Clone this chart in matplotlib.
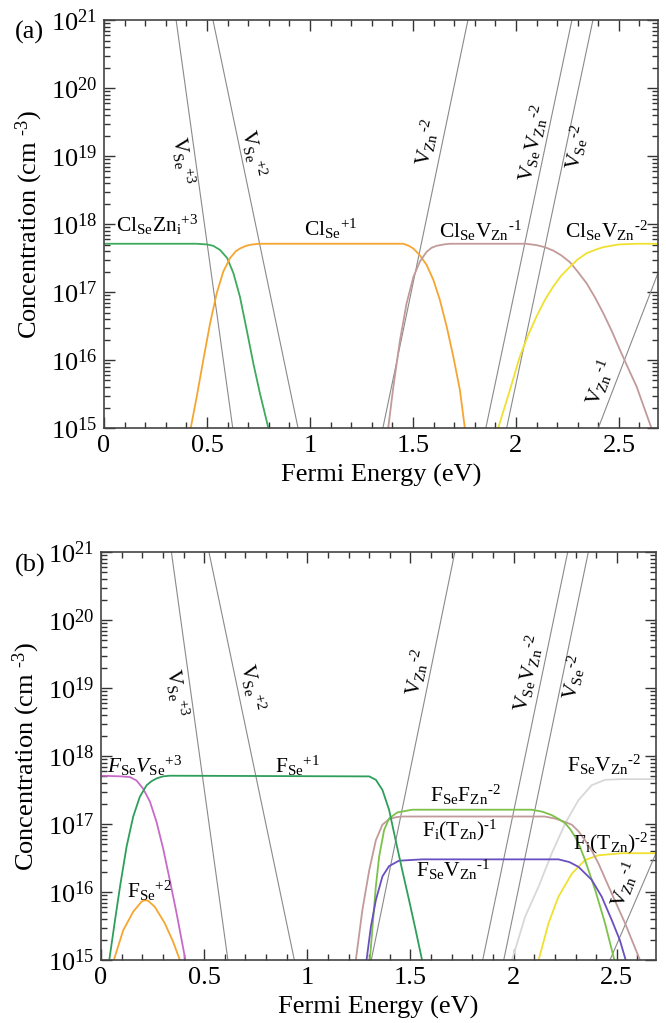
import numpy as np
import matplotlib.pyplot as plt
from matplotlib.ticker import MultipleLocator, FuncFormatter, LogLocator, NullFormatter

plt.rcParams['font.family'] = ['Liberation Serif', 'DejaVu Serif']
plt.rcParams['mathtext.fontset'] = 'custom'
plt.rcParams['mathtext.rm'] = 'Liberation Serif'
plt.rcParams['mathtext.it'] = 'Liberation Serif:italic'
plt.rcParams['mathtext.default'] = 'regular'

# ---------------------------------------------------------------
# Data: Fermi energy (eV) vs log10(conc. cm^-3)
# ---------------------------------------------------------------
# (a) Cl doping
cl_zni_e = [0.00, 0.45, 0.50, 0.53, 0.563, 0.598, 0.628, 0.660, 0.693, 0.725, 0.757, 0.798]
cl_zni_c = [17.71, 17.71, 17.70, 17.68, 17.62, 17.50, 17.28, 16.93, 16.44, 15.95, 15.51, 15.00]

cl_se1_e = [0.421, 0.450, 0.482, 0.515, 0.547, 0.579, 0.612, 0.640, 0.660, 0.690, 0.720, 0.757,
            1.453, 1.480, 1.502, 1.534, 1.566, 1.599, 1.631, 1.664, 1.696, 1.728, 1.752]
cl_se1_c = [15.00, 15.46, 16.00, 16.54, 16.98, 17.30, 17.50, 17.60, 17.64, 17.68, 17.70, 17.71,
            17.71, 17.68, 17.64, 17.54, 17.40, 17.18, 16.88, 16.49, 16.05, 15.56, 15.00]

cl_vzn1_e = [1.380, 1.405, 1.437, 1.469, 1.502, 1.534, 1.566, 1.590, 1.615, 1.650, 1.680,
             2.050, 2.100, 2.140, 2.181, 2.220, 2.262, 2.300, 2.343, 2.384, 2.424, 2.465,
             2.505, 2.545, 2.586, 2.658]
cl_vzn1_c = [15.00, 15.61, 16.29, 16.83, 17.22, 17.45, 17.59, 17.65, 17.68, 17.70, 17.71,
             17.71, 17.69, 17.66, 17.61, 17.54, 17.44, 17.30, 17.13, 16.92, 16.69, 16.43,
             16.15, 15.88, 15.61, 15.00]

cl_vzn2_e = [1.914, 1.971, 2.019, 2.060, 2.100, 2.140, 2.181, 2.220, 2.262, 2.300, 2.343,
             2.384, 2.424, 2.500, 2.586, 2.69]
cl_vzn2_c = [15.00, 15.56, 16.05, 16.37, 16.64, 16.88, 17.08, 17.24, 17.37, 17.48, 17.57,
             17.62, 17.66, 17.70, 17.71, 17.71]

# intrinsic defects (a): (E, logC) start and end
vac_a = {
    'vse3':    [(0.625, 15.0), (0.350, 21.0)],
    'vse2':    [(0.942, 15.0), (0.529, 21.0)],
    'vzn2':    [(1.354, 15.0), (1.767, 21.0)],
    'vsevzn2': [(1.854, 15.0), (2.272, 21.0)],
    'vse_2':   [(1.955, 15.0), (2.374, 21.0)],
    'vzn1':    [(2.400, 15.0), (2.690, 17.28)],
}

# (b) F doping
fse_vse3_e = [0.00, 0.10, 0.140, 0.172, 0.204, 0.237, 0.269, 0.301, 0.333, 0.366, 0.409]
fse_vse3_c = [17.71, 17.70, 17.69, 17.64, 17.52, 17.33, 17.03, 16.64, 16.18, 15.69, 15.00]

fse1_e = [0.040, 0.068, 0.092, 0.124, 0.156, 0.188, 0.221, 0.245, 0.269, 0.300, 0.333,
          1.300, 1.332, 1.364, 1.396, 1.428, 1.460, 1.493, 1.525, 1.556]
fse1_c = [15.00, 15.59, 16.08, 16.67, 17.11, 17.40, 17.57, 17.63, 17.67, 17.70, 17.71,
          17.70, 17.65, 17.50, 17.21, 16.76, 16.32, 15.88, 15.44, 15.00]

fse2_e = [0.062, 0.108, 0.156, 0.197, 0.213, 0.229, 0.261, 0.309, 0.349, 0.382]
fse2_c = [15.00, 15.44, 15.71, 15.86, 15.88, 15.87, 15.78, 15.54, 15.27, 15.00]

fsefzn_e = [1.303, 1.316, 1.332, 1.348, 1.372, 1.396, 1.436, 1.509,
            2.088, 2.140, 2.185, 2.220, 2.250, 2.275, 2.298, 2.322, 2.346, 2.395, 2.443, 2.488]
fsefzn_c = [15.00, 15.49, 16.08, 16.52, 16.91, 17.08, 17.17, 17.21,
            17.21, 17.18, 17.13, 17.07, 17.01, 16.92, 16.81, 16.66, 16.47, 16.03, 15.54, 15.00]

fitzn1_e = [1.235, 1.267, 1.300, 1.332, 1.364, 1.396, 1.430, 1.460,
            2.150, 2.201, 2.240, 2.282, 2.315, 2.346, 2.380, 2.411, 2.475, 2.540, 2.612]
fitzn1_c = [15.00, 15.74, 16.32, 16.76, 16.99, 17.07, 17.10, 17.11,
            17.11, 17.08, 17.04, 16.99, 16.89, 16.76, 16.60, 16.42, 15.98, 15.54, 15.00]

fsevzn1_e = [1.287, 1.308, 1.332, 1.364, 1.396, 1.444, 1.557,
             2.217, 2.270, 2.314, 2.378, 2.427, 2.475, 2.515, 2.543]
fsevzn1_c = [15.00, 15.49, 15.88, 16.23, 16.38, 16.46, 16.48,
             16.48, 16.44, 16.37, 16.18, 15.93, 15.59, 15.29, 15.00]

fsevzn2_e = [1.992, 2.056, 2.121, 2.185, 2.250, 2.314, 2.378, 2.443, 2.523, 2.69]
fsevzn2_c = [15.00, 15.64, 16.08, 16.57, 17.01, 17.35, 17.57, 17.65, 17.66, 17.66]

fitzn2_e = [2.121, 2.169, 2.217, 2.282, 2.346, 2.411, 2.523, 2.69]
fitzn2_c = [15.00, 15.54, 15.93, 16.27, 16.47, 16.54, 16.57, 16.57]

vac_b = {
    'vse3':    [(0.615, 15.0), (0.341, 21.0)],
    'vse2':    [(0.937, 15.0), (0.523, 21.0)],
    'vzn2':    [(1.310, 15.0), (1.715, 21.0)],
    'vsevzn2': [(1.850, 15.0), (2.262, 21.0)],
    'vse_2':   [(1.952, 15.0), (2.362, 21.0)],
    'vzn1':    [(2.467, 15.0), (2.690, 16.57)],
}

x_ticks = [0, 0.5, 1, 1.5, 2, 2.5]
y_decades = [15, 16, 17, 18, 19, 20, 21]

LBL = 15.5
GRAY = '#8a8a8a'


def conc(c):
    return 10.0 ** np.asarray(c)


def setup(ax):
    ax.set_yscale('log')
    ax.set_xlim(0, 2.69)
    ax.set_ylim(1e15, 1e21)
    ax.set_xticks(x_ticks)
    ax.set_yticks(conc(y_decades))
    ax.xaxis.set_minor_locator(MultipleLocator(0.1))
    ax.xaxis.set_major_formatter(FuncFormatter(lambda v, p: f'{v:g}'))
    ax.yaxis.set_minor_locator(LogLocator(base=10, subs=np.arange(2, 10), numticks=20))
    ax.yaxis.set_minor_formatter(NullFormatter())
    ax.tick_params(which='both', direction='in', top=True, right=True,
                   labelsize=19, color='#333333', width=1.0)
    ax.tick_params(which='major', length=8, pad=5)
    ax.tick_params(which='minor', length=4)
    for s in ax.spines.values():
        s.set_color('#444444')
        s.set_linewidth(1.2)
    ax.set_xlabel('Fermi Energy (eV)', fontsize=19, labelpad=5)
    ax.set_ylabel(r'Concentration (cm $^{\text{-}3}$)', fontsize=19, labelpad=4)


def draw_vac(ax, vac):
    for (e0, c0), (e1, c1) in vac.values():
        ax.plot([e0, e1], conc([c0, c1]), color=GRAY, lw=0.8)


def lab(ax, e, c, s, rot=0, ha='center'):
    ax.text(e, 10**c, s, rotation=rot, ha=ha, va='center', fontsize=LBL,
            rotation_mode='anchor')


fig = plt.figure(figsize=(6.66, 10.23), dpi=100)
ax_a = fig.add_axes([0.1562, 0.5816, 0.8318, 0.3988])
ax_b = fig.add_axes([0.1517, 0.0616, 0.8333, 0.3988])

# ----------------------------- (a) -----------------------------
setup(ax_a)
draw_vac(ax_a, vac_a)
ax_a.plot(cl_zni_e, conc(cl_zni_c), color='#3daa5e', lw=1.3)
ax_a.plot(cl_se1_e, conc(cl_se1_c), color='#f7a531', lw=1.3)
ax_a.plot(cl_vzn1_e, conc(cl_vzn1_c), color='#c29a9a', lw=1.3)
ax_a.plot(cl_vzn2_e, conc(cl_vzn2_c), color='#f0e130', lw=1.3)

lab(ax_a, 0.379, 18.94, r'V$_{Se}$$^{+3}$', -82)
lab(ax_a, 0.723, 19.04, r'V$_{Se}$$^{+2}$', -78)
lab(ax_a, 1.568, 19.19, r'V$_{Zn}$$^{\text{-}2}$', 78)
lab(ax_a, 2.083, 19.19, r'V$_{Se}$V$_{Zn}$$^{\text{-}2}$', 78)
lab(ax_a, 2.296, 19.13, r'V$_{Se}$$^{\text{-}2}$', 78)
lab(ax_a, 2.408, 15.66, r'V$_{Zn}$$^{\text{-}1}$', 69)
lab(ax_a, 0.06, 17.99, r'Cl$_{Se}$Zn$_{i}$$^{+3}$', ha='left')
lab(ax_a, 1.10, 17.93, r'Cl$_{Se}$$^{+1}$')
lab(ax_a, 1.83, 17.90, r'Cl$_{Se}$V$_{Zn}$$^{\text{-}1}$')
lab(ax_a, 2.44, 17.90, r'Cl$_{Se}$V$_{Zn}$$^{\text{-}2}$')

# ----------------------------- (b) -----------------------------
setup(ax_b)
draw_vac(ax_b, vac_b)
ax_b.plot(fsevzn2_e, conc(fsevzn2_c), color='#d8d8d8', lw=1.3)
ax_b.plot(fitzn2_e, conc(fitzn2_c), color='#f0e130', lw=1.3)
ax_b.plot(fitzn1_e, conc(fitzn1_c), color='#c29a9a', lw=1.3)
ax_b.plot(fsefzn_e, conc(fsefzn_c), color='#7cc24a', lw=1.3)
ax_b.plot(fsevzn1_e, conc(fsevzn1_c), color='#6a4fc0', lw=1.3)
ax_b.plot(fse_vse3_e, conc(fse_vse3_c), color='#c86ac8', lw=1.3)
ax_b.plot(fse2_e, conc(fse2_c), color='#f7a531', lw=1.3)
ax_b.plot(fse1_e, conc(fse1_c), color='#2e9e5b', lw=1.3)

lab(ax_b, 0.367, 18.93, r'V$_{Se}$$^{+3}$', -82)
lab(ax_b, 0.729, 19.01, r'V$_{Se}$$^{+2}$', -78)
lab(ax_b, 1.530, 19.22, r'V$_{Zn}$$^{\text{-}2}$', 78)
lab(ax_b, 2.070, 19.22, r'V$_{Se}$V$_{Zn}$$^{\text{-}2}$', 78)
lab(ax_b, 2.290, 19.16, r'V$_{Se}$$^{\text{-}2}$', 78)
lab(ax_b, 2.540, 16.10, r'V$_{Zn}$$^{\text{-}1}$', 69)
lab(ax_b, 0.03, 17.85, r'$\mathit{F}_{Se}\mathit{V}_{Se}{}^{+3}$', ha='left')
lab(ax_b, 0.95, 17.85, r'F$_{Se}$$^{+1}$')
lab(ax_b, 0.237, 16.02, r'F$_{Se}$$^{+2}$')
lab(ax_b, 1.768, 17.43, r'F$_{Se}$F$_{Zn}$$^{\text{-}2}$')
lab(ax_b, 1.740, 16.91, r'F$_{i}$(T$_{Zn}$)$^{\text{-}1}$')
lab(ax_b, 1.705, 16.32, r'F$_{Se}$V$_{Zn}$$^{\text{-}1}$')
lab(ax_b, 2.440, 17.87, r'F$_{Se}$V$_{Zn}$$^{\text{-}2}$')
lab(ax_b, 2.470, 16.72, r'F$_{i}$(T$_{Zn}$)$^{\text{-}2}$')

fig.text(0.022, 1 - 32 / 1023, '(a)', fontsize=19, ha='left', va='center')
fig.text(0.022, 1 - 565 / 1023, '(b)', fontsize=19, ha='left', va='center')

fig.savefig('out.png', dpi=100)
